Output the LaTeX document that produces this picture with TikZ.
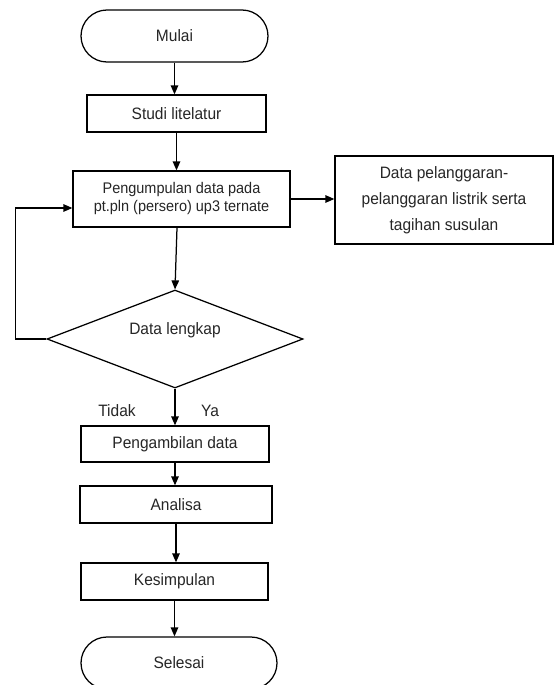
\documentclass[tikz,border=0pt]{standalone}
\usepackage{fontspec}
\setmainfont{Liberation Sans}[FakeStretch=0.94]
\usetikzlibrary{arrows.meta,shapes.geometric}
\begin{document}
\begin{tikzpicture}[x=1pt,y=-1pt,
  line width=1.25pt,
  every node/.style={font=\fontsize{16.5}{19}\selectfont, inner sep=0pt, text=black!85},
  box/.style={draw=black, rectangle, align=center},
  term/.style={draw=black, rectangle, rounded corners=26pt, align=center},
  dec/.style={draw=black, diamond, align=center},
  arr/.style={-{Triangle[length=9pt,width=7.5pt]}},
  lbl/.style={}
]
\fill[white] (0,0) rectangle (554,685);
\clip (0,0) rectangle (554,685);
\useasboundingbox (0,0) rectangle (554,685);

\node[term, minimum width=187pt, minimum height=52pt] (M) at (174.5,36) {Mulai};
\node[box, minimum width=179pt, minimum height=37pt] (S) at (176.5,113.5) {Studi litelatur};
\node[box, minimum width=217pt, minimum height=56pt, font=\fontsize{15.4}{18}\selectfont] (P) at (181.5,199) {Pengumpulan data pada\\pt.pln (persero) up3 ternate};
\node[box, minimum width=218pt, minimum height=88pt, font=\fontsize{16.5}{26}\selectfont] (T) at (444,200) {Data pelanggaran-\\pelanggaran listrik serta\\tagihan susulan};
\node[dec, minimum width=256pt, minimum height=98pt] (D) at (175,339) {};
\node at (175,330) (DT) {Data lengkap};
\node[box, minimum width=188pt, minimum height=36pt] (G) at (175,444) {Pengambilan data};
\node[box, minimum width=192pt, minimum height=37pt] (A) at (176,504.5) {Analisa};
\node[box, minimum width=187pt, minimum height=37pt] (K) at (174.5,581.5) {Kesimpulan};
\node[term, minimum width=196pt, minimum height=52pt] (E) at (179,663) {Selesai};
\node[lbl] (Ti) at (117,411) {Tidak};
\node[lbl] (Ya) at (210,411) {Ya};

\draw[arr] (M.south) -- (M.south |- S.north);
\draw[arr] (S.south) -- (S.south |- P.north);
\draw[arr] ([xshift=-4.5pt]P.south) -- (D.north);
\draw[arr] (P.east) -- (P.east -| T.west);
\draw[arr] (D.west) -- ++(-31,0) |- ([yshift=-9pt]P.west);
\draw[arr] (D.south) -- (D.south |- G.north);
\draw[arr] (G.south) -- (G.south |- A.north);
\draw[arr] (A.south) -- (A.south |- K.north);
\draw[arr] (K.south) -- (K.south |- E.north);
\end{tikzpicture}
\end{document}
